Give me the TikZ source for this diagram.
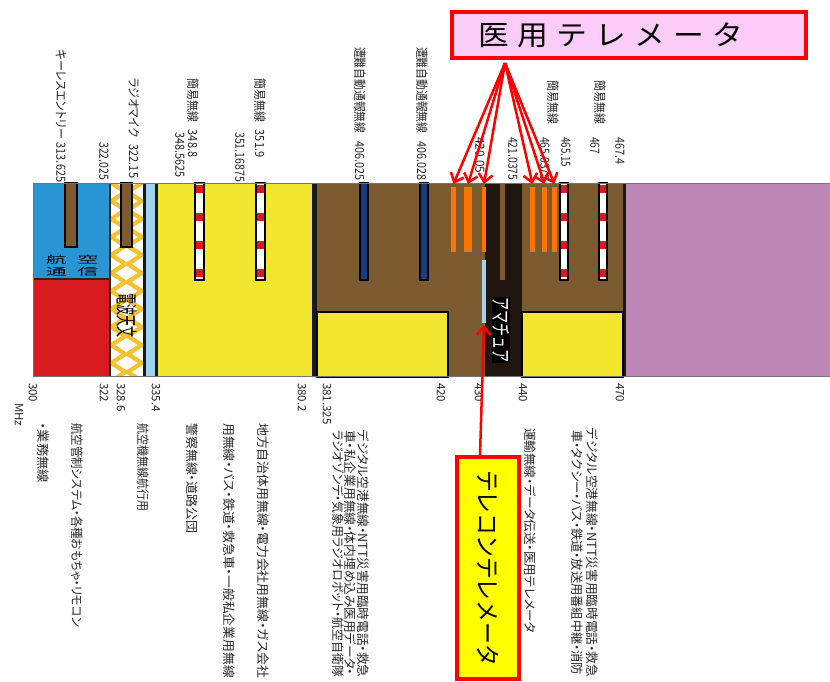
\documentclass[tikz,border=0pt]{standalone}
\usepackage{fontspec}
\usepackage{graphicx}
\setmainfont{Noto Sans CJK JP}
\newfontfamily\pj[RawFeature=+palt]{Noto Sans CJK JP}
\usetikzlibrary{arrows.meta,calc}
\definecolor{cblue}{RGB}{42,149,213}
\definecolor{cred}{RGB}{216,27,31}
\definecolor{cyel}{RGB}{243,230,46}
\definecolor{cbrn}{RGB}{123,91,47}
\definecolor{cpurp}{RGB}{189,136,181}
\definecolor{cgold}{RGB}{244,196,48}
\definecolor{clblue}{RGB}{157,211,241}
\definecolor{corange}{RGB}{255,115,0}
\definecolor{cnavy}{RGB}{27,60,126}
\definecolor{cblk}{RGB}{33,22,15}
\definecolor{cpink}{RGB}{251,204,248}
\definecolor{cyellow}{RGB}{255,255,0}
\newcommand\tfit[2]{\resizebox{#1pt}{1.15\height}{#2}}
\newcommand\bfit[2]{\resizebox{#1pt}{1.05\height}{#2}}
\newcommand\wc[1]{\makebox[39pt]{\scalebox{1.1}[1]{#1}}}
\newcommand\rwbar[2]{%
  \fill[white] (#1,183) rectangle (#2,280);
  \foreach \yy in {185,213,241,269}{\fill[cred] (#1,\yy) rectangle (#2,{\yy+8});}
  \draw[line width=1.2pt] (#1,183) rectangle (#2,280);}
\begin{document}
\begin{tikzpicture}[x=1pt,y=-1pt,
  toplab/.style={rotate=-90,anchor=west,inner sep=0pt,font=\pj\fontsize{11}{11}\selectfont,text=black!85},
  numlab/.style={rotate=-90,anchor=west,inner sep=0pt,font=\pj\fontsize{11.5}{11.5}\selectfont,text=black!85},
  botlab/.style={rotate=-90,anchor=west,inner sep=0pt,font=\pj\fontsize{12}{12}\selectfont,text=black!85},
  arr/.style={draw=red,line width=2.5pt,-{Straight Barb[length=8pt,width=14pt]}},
  inbar/.style={draw=black,line width=1.2pt}]
\useasboundingbox (0,0) rectangle (830,682);
\fill[white] (0,0) rectangle (830,682);
% ---- band segments
\fill[cblue] (33,183) rectangle (110,279);
\fill[cred] (33,279) rectangle (110,376);
\begin{scope}
  \clip (110,183) rectangle (143,376);
  \fill[cgold] (110,183) rectangle (143,376);
  \foreach \k in {0,...,11}{
    \fill[white,shift={(126.5,{183+18*\k})}] (0,-7) -- (11,0) -- (0,7) -- (-11,0) -- cycle;
    \fill[white,shift={(110,{192+18*\k})}] (0,-7) -- (11,0) -- (0,7) -- (-11,0) -- cycle;
    \fill[white,shift={(143,{192+18*\k})}] (0,-7) -- (11,0) -- (0,7) -- (-11,0) -- cycle;
  }
\end{scope}
\fill[black!90] (143,183) rectangle (146,376);
\fill[clblue] (146,183) rectangle (155,376);
\fill[black!90] (155,183) rectangle (158,376);
\fill[cyel] (158,183) rectangle (312,376);
\fill[black!90] (312,183) rectangle (317,376);
\fill[cbrn] (317,183) rectangle (485,376);
\fill[cblk] (485,183) rectangle (522,376);
\fill[cbrn] (522,183) rectangle (623,376);
\fill[black!90] (623,183) rectangle (626,376);
\fill[cpurp] (626,183) rectangle (830,376);
\fill[black!85] (109,183) rectangle (111,376);
\draw[black!85,line width=1.2pt] (33,279) -- (110,279);
\draw[line width=1.5pt,fill=cyel] (317,312) rectangle (448,377);
\draw[line width=1.5pt,fill=cyel] (522,312) rectangle (623,377);
% ---- channel bars
\draw[inbar,fill=cbrn] (65,183) rectangle (77,247);
\draw[inbar,fill=cbrn] (121,183) rectangle (132,247);
\rwbar{195}{204}
\rwbar{256}{265}
\rwbar{560}{568}
\rwbar{599}{607}
\draw[inbar,fill=cnavy] (360,183) rectangle (368,280);
\draw[inbar,fill=cnavy] (420,183) rectangle (428,280);
\fill[cbrn] (500,183) rectangle (505,280);
\fill[corange] (451,187) rectangle (456,252);
\fill[corange] (464,187) rectangle (472,252);
\fill[corange] (482,187) rectangle (486,252);
\fill[corange] (530,187) rectangle (535,252);
\fill[corange] (542,187) rectangle (547,252);
\fill[corange] (552,187) rectangle (557,252);
\fill[clblue] (482,260) rectangle (486,323);
% ---- frame
\draw[black!55,line width=1pt] (33,183) -- (830,183);
\draw[black!55,line width=1pt] (33,376) -- (830,376);
\draw[black!55,line width=1pt] (33,183) -- (33,376);
% ---- texts inside band
\node[align=center,inner sep=0pt,font=\fontsize{10}{12}\selectfont] (aero) at (72,266)
  {\scalebox{2.1}[1]{航\hspace{5pt}空}\\\scalebox{2.1}[1]{通\hspace{5pt}信}};
\node[rotate=-90,inner sep=0pt,font=\fontsize{11}{11}\selectfont] (radioastro) at (126.5,315) {\scalebox{1}[2]{電波天文}};
\node[rotate=-90,fill=black,inner sep=1pt,text=white,font=\fontsize{13}{13}\selectfont] (ama) at (501,330) {\scalebox{1}[1.6]{アマチュア}};
% ---- top labels
\node[toplab] (t1) at (61,50) {\tfit{132}{キーレスエントリー\hspace{4pt}313.625}};
\node[toplab] (t2) at (104,142) {\tfit{38}{322.025}};
\node[toplab] (t3) at (134,78) {\tfit{100}{ラジオマイク\hspace{7pt}322.15}};
\node[toplab] (t4) at (180,132) {\tfit{45}{348.5625}};
\node[toplab] (t5) at (193,78) {\tfit{79}{簡易無線\hspace{8pt}348.8}};
\node[toplab] (t6) at (240,132) {\tfit{50}{351.16875}};
\node[toplab] (t7) at (260,78) {\tfit{79}{簡易無線\hspace{8pt}351.9}};
\node[toplab] (t8) at (360,47) {\tfit{133}{遭難自動通報無線\hspace{8pt}406.025}};
\node[toplab] (t9) at (422,47) {\tfit{133}{遭難自動通報無線\hspace{8pt}406.028}};
\node[toplab] (t10) at (480,137) {\tfit{36}{420.05}};
\node[toplab] (t11) at (513,137) {\tfit{43}{421.0375}};
\node[toplab] (t12) at (545,137) {\tfit{43}{465.0375}};
\node[toplab] (t13) at (553,80) {\tfit{44}{簡易無線}};
\node[toplab] (t14) at (566,137) {\tfit{30}{465.15}};
\node[toplab] (t15) at (595,137) {\tfit{17}{467}};
\node[toplab] (t16) at (600,80) {\tfit{44}{簡易無線}};
\node[toplab] (t17) at (620,137) {\tfit{27}{467.4}};
% ---- bottom frequency labels
\node[numlab] (f300) at (33,383) {300};
\node[numlab] (fmhz) at (19,403) {MHz};
\node[numlab] (f322) at (104,383) {322};
\node[numlab] (f3286) at (121,383) {328.6};
\node[numlab] (f3354) at (156,383) {335.4};
\node[numlab] (f3802) at (302,383) {380.2};
\node[numlab] (f381) at (327,383) {381.325};
\node[numlab] (f420) at (441,383) {420};
\node[numlab] (f430) at (479,383) {430};
\node[numlab] (f440) at (523,383) {440};
\node[numlab] (f470) at (620,383) {470};
% ---- bottom descriptions
\node[botlab] (b1) at (77,423) {\bfit{204}{航空管制システム・各種おもちゃ・リモコン}};
\node[botlab] (b2) at (43,423) {\bfit{60}{・業務無線}};
\node[botlab] (b3) at (143,423) {\bfit{88}{航空機無線航行用}};
\node[botlab] (b4) at (263,423) {\bfit{255}{地方自治体用無線・電力会社用無線・ガス会社}};
\node[botlab] (b5) at (229,423) {\bfit{255}{用無線・バス・鉄道・救急車・一般私企業用無線}};
\node[botlab] (b6) at (192,423) {\bfit{110}{警察無線・道路公団}};
\node[botlab] (b7) at (363,430) {\bfit{247}{デジタル空港無線・NTT災害用臨時電話・救急}};
\node[botlab] (b8) at (350,430) {\bfit{245}{車・私企業用無線・体内埋め込み医用データ・}};
\node[botlab] (b9) at (338,430) {\bfit{247}{ラジオゾンデ・気象用ラジオロボット・航空自衛隊}};
\node[botlab] (b10) at (592,428) {\bfit{249}{デジタル空港無線・NTT災害用臨時電話・救急}};
\node[botlab] (b11) at (577,430) {\bfit{245}{車・タクシー・バス・鉄道・放送用番組中継・消防}};
\node[botlab] (b12) at (530,428) {\bfit{205}{運輸無線・データ伝送・医用テレメータ}};
% ---- callouts
\node[draw=red,line width=4pt,fill=cpink,minimum width=354pt,minimum height=46pt,inner sep=0pt] (medbox) at (629,35) {};
\node[inner sep=0pt,font=\fontsize{28}{28}\selectfont] (medtxt) at (611,35)
  {\wc{医}\wc{用}\wc{テ}\wc{レ}\wc{メ}\wc{ー}\wc{タ}};
\node[draw=red,line width=4pt,fill=cyellow,minimum width=62pt,minimum height=222pt,inner sep=0pt,font=\fontsize{25}{25}\selectfont] (telebox) at (488,568)
  {\rotatebox{-90}{\resizebox{196pt}{\height}{テレコンテレメータ}}};
% ---- arrows
\coordinate (apex) at ($(medbox.south west)+(55,3)$);
\coordinate (m1) at (453.5,184);
\coordinate (m2) at (468,184);
\coordinate (m3) at (484,184);
\coordinate (m4) at (532.5,184);
\coordinate (m5) at (544.5,184);
\coordinate (m6) at (554.5,184);
\foreach \m in {m1,m2,m3,m4,m5,m6}{\draw[arr] (apex) -- (\m);}
\coordinate (lbend) at (484,325);
\draw[arr] ($(telebox.north)+(-8,0)$) -- (lbend);
\end{tikzpicture}
\end{document}
